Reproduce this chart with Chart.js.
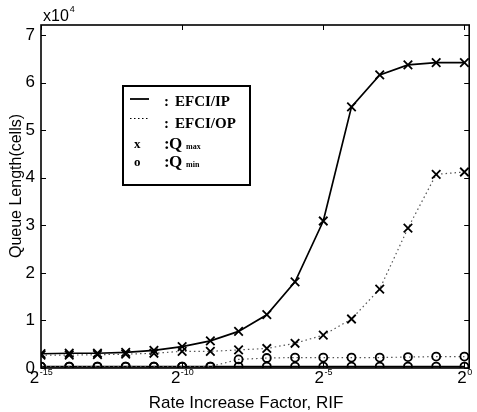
<!DOCTYPE html>
<html>
<head>
<meta charset="utf-8">
<script src="https://cdn.jsdelivr.net/npm/chart.js@4/dist/chart.umd.min.js"></script>
<style>
  html, body { margin: 0; padding: 0; background: #fff; }
  #wrap { width: 477px; height: 412px; }
</style>
</head>
<body>
<div id="wrap"><canvas id="chart" width="477" height="412"></canvas></div>
<script>
// x is RIF = 2^exponent ; y in units of 10^4 cells
const exponents = [-15, -14, -13, -12, -11, -10, -9, -8, -7, -6, -5, -4, -3, -2, -1, 0];
const ipQmax = [0.30, 0.31, 0.31, 0.33, 0.37, 0.45, 0.57, 0.77, 1.12, 1.81, 3.09, 5.49, 6.16, 6.37, 6.42, 6.42];
const ipQmin = [0.03, 0.03, 0.03, 0.03, 0.03, 0.03, 0.03, 0.03, 0.03, 0.03, 0.03, 0.03, 0.03, 0.03, 0.03, 0.03];
const opQmax = [0.27, 0.27, 0.28, 0.29, 0.31, 0.35, 0.35, 0.38, 0.41, 0.52, 0.69, 1.03, 1.66, 2.94, 4.07, 4.12];
const opQmin = [0.03, 0.03, 0.03, 0.03, 0.03, 0.03, 0.03, 0.18, 0.21, 0.22, 0.22, 0.22, 0.22, 0.23, 0.24, 0.24];
const xTicks = [-15, -10, -5, 0];
const yTicks = [0, 1, 2, 3, 4, 5, 6, 7];

const SANS = '"Liberation Sans", Arial, sans-serif';
const SERIF = '"Liberation Serif", "Times New Roman", serif';

const toPoints = (vals) => vals.map((v, i) => ({ x: exponents[i], y: v }));

function series(vals, marker, dotted) {
  return {
    data: toPoints(vals),
    borderColor: dotted ? '#555' : '#000',
    borderWidth: dotted ? 1.2 : 1.7,
    borderDash: dotted ? [1.5, 3] : [],
    pointStyle: marker,
    pointRadius: marker === 'crossRot' ? 6 : 4,
    pointBorderWidth: 1.8,
    pointBorderColor: '#000',
    pointBackgroundColor: 'rgba(0,0,0,0)',
    fill: false,
    tension: 0,
  };
}

const decor = {
  id: 'decor',
  afterDraw(chart) {
    const { ctx, chartArea: a, scales: { x, y } } = chart;
    ctx.save();
    ctx.strokeStyle = '#000';
    ctx.fillStyle = '#000';

    // frame
    ctx.lineWidth = 1.6;
    ctx.strokeRect(a.left, a.top, a.right - a.left, a.bottom - a.top);

    // inward ticks
    ctx.lineWidth = 1;
    ctx.beginPath();
    yTicks.forEach(v => {
      const p = Math.round(y.getPixelForValue(v)) + 0.5;
      ctx.moveTo(a.left, p); ctx.lineTo(a.left + 5, p);
      ctx.moveTo(a.right, p); ctx.lineTo(a.right - 5, p);
    });
    xTicks.forEach(v => {
      const p = Math.round(x.getPixelForValue(v)) + 0.5;
      ctx.moveTo(p, a.bottom); ctx.lineTo(p, a.bottom - 5);
      ctx.moveTo(p, a.top); ctx.lineTo(p, a.top + 5);
    });
    ctx.stroke();

    // x tick labels 2^n
    ctx.textBaseline = 'alphabetic';
    ctx.textAlign = 'left';
    xTicks.forEach(v => {
      const px = x.getPixelForValue(v);
      const exp = v === 0 ? '0' : '-' + Math.abs(v);
      ctx.font = '17px ' + SANS;
      const w1 = ctx.measureText('2').width;
      ctx.font = '9px ' + SANS;
      const w2 = ctx.measureText(exp).width;
      const x0 = px - (w1 + w2) / 2;
      ctx.font = '17px ' + SANS;
      ctx.fillText('2', x0, a.bottom + 15);
      ctx.font = '9px ' + SANS;
      ctx.fillText(exp, x0 + w1 + 0.5, a.bottom + 7);
    });

    // x10^4 multiplier
    ctx.font = '16px ' + SANS;
    ctx.fillText('x10', a.left + 2, a.top - 4);
    const wm = ctx.measureText('x10').width;
    ctx.font = '9px ' + SANS;
    ctx.fillText('4', a.left + 2 + wm + 1, a.top - 13);

    // axis titles
    ctx.font = '17px ' + SANS;
    ctx.textAlign = 'center';
    ctx.fillText('Rate Increase Factor, RIF', 246, 408);
    ctx.save();
    ctx.translate(21, 186);
    ctx.rotate(-Math.PI / 2);
    ctx.font = '16px ' + SANS;
    ctx.fillText('Queue Length(cells)', 0, 0);
    ctx.restore();

    // legend box
    ctx.lineWidth = 2;
    ctx.strokeRect(123, 86, 127, 99);
    ctx.lineWidth = 1.8;
    ctx.beginPath(); ctx.moveTo(130, 99); ctx.lineTo(149, 99); ctx.stroke();
    ctx.lineWidth = 1;
    ctx.setLineDash([1.5, 2.5]);
    ctx.beginPath(); ctx.moveTo(130, 118.5); ctx.lineTo(149, 118.5); ctx.stroke();
    ctx.setLineDash([]);

    ctx.textAlign = 'left';
    ctx.font = 'bold 15px ' + SERIF;
    ctx.fillText(':', 164, 106);
    ctx.fillText('EFCI/IP', 175, 106);
    ctx.fillText(':', 164, 128);
    ctx.fillText('EFCI/OP', 175, 128);
    ctx.font = 'bold 13px ' + SERIF;
    ctx.fillText('x', 134, 148);
    ctx.fillText('o', 134, 166);
    ctx.font = 'bold 17px ' + SERIF;
    ctx.fillText(':', 164, 149);
    ctx.fillText('Q', 169, 149);
    ctx.fillText(':', 164, 167);
    ctx.fillText('Q', 169, 167);
    ctx.font = 'bold 8px ' + SERIF;
    ctx.fillText('max', 186, 149);
    ctx.fillText('min', 186, 167);

    ctx.restore();
  }
};

new Chart(document.getElementById('chart'), {
  type: 'line',
  data: {
    datasets: [
      series(opQmax, 'crossRot', true),
      series(opQmin, 'circle', true),
      series(ipQmax, 'crossRot', false),
      series(ipQmin, 'circle', false),
    ],
  },
  options: {
    responsive: false,
    animation: false,
    devicePixelRatio: 1,
    layout: { padding: { left: 0, right: 7, top: 25, bottom: 0 } },
    plugins: { legend: { display: false }, tooltip: { enabled: false } },
    scales: {
      x: {
        type: 'linear',
        min: -15,
        max: 0.17,
        afterBuildTicks: (s) => { s.ticks = xTicks.map(v => ({ value: v })); },
        afterFit: (s) => { s.height = 44; },
        grid: { display: false, drawTicks: false },
        border: { display: false },
        ticks: { display: false },
      },
      y: {
        min: 0,
        max: 7.21,
        afterBuildTicks: (s) => { s.ticks = yTicks.map(v => ({ value: v })); },
        afterFit: (s) => { s.width = 41; },
        grid: { display: false, drawTicks: false },
        border: { display: false },
        ticks: { color: '#000', padding: 6, font: { family: SANS, size: 17 } },
      },
    },
  },
  plugins: [decor],
});
</script>
</body>
</html>
